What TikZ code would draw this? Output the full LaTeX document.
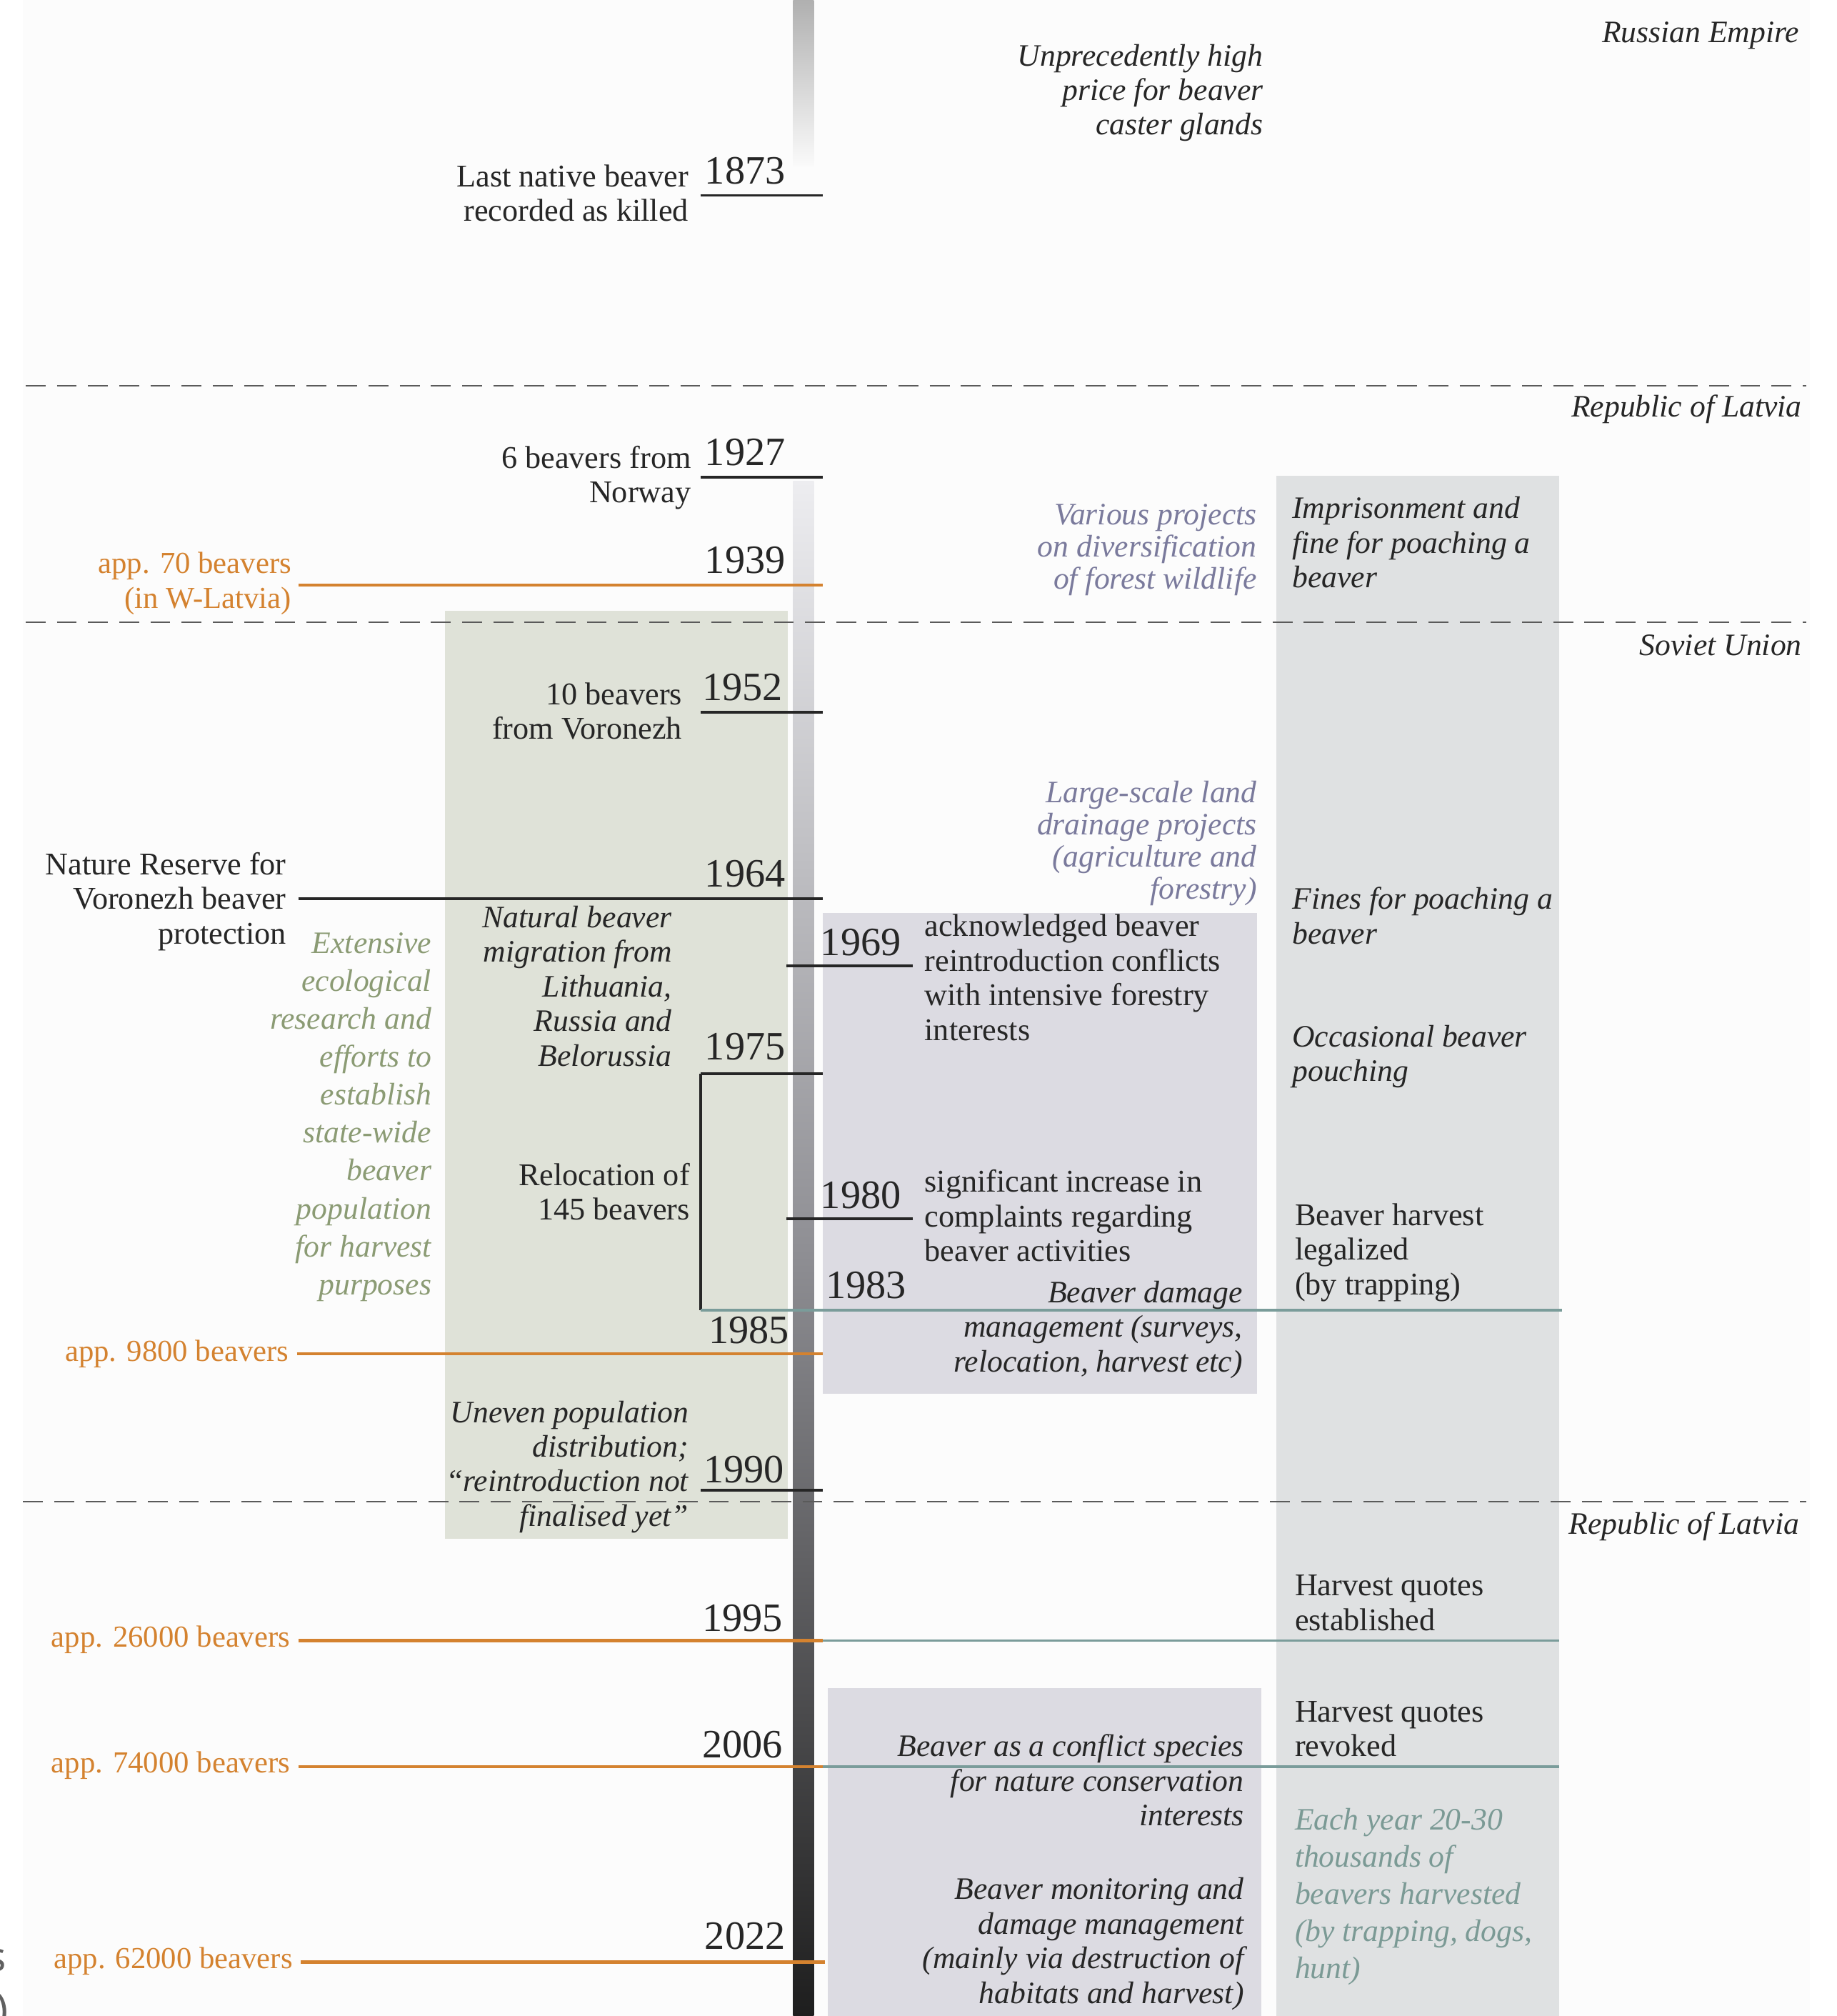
\documentclass[tikz,border=0pt]{standalone}
\usepackage{fontspec}
\setmainfont{Liberation Serif}
\newfontfamily\sidefont{Noto Sans}
\usetikzlibrary{positioning}

\definecolor{paper}{HTML}{FCFCFC}
\definecolor{ink}{HTML}{262626}
\definecolor{popor}{HTML}{D4822F}
\definecolor{greentxt}{HTML}{8B9B74}
\definecolor{purptxt}{HTML}{7A7A9C}
\definecolor{tealtxt}{HTML}{7B9A95}
\definecolor{tealline}{HTML}{7A9C9A}
\definecolor{greenbox}{HTML}{DFE2D8}
\definecolor{purpbox}{HTML}{DCDBE2}
\definecolor{lawbox}{HTML}{DFE1E2}
\definecolor{dashgray}{HTML}{5A5A5A}
\definecolor{barlight}{HTML}{EDEDF0}
\definecolor{barmid}{HTML}{8F8F94}
\definecolor{bardark}{HTML}{1E1E1E}

\begin{document}
\begin{tikzpicture}[x=0.2mm, y=-0.2mm,
    lbl/.style={inner sep=0pt, text=ink, font=\fontsize{14}{15.3}\selectfont},
    ilbl/.style={inner sep=0pt, text=ink, font=\fontsize{13.8}{15.3}\selectfont\itshape},
    tor/.style={anchor=base east, align=right},
    tol/.style={anchor=base west, align=left},
    pop/.style={lbl, tor, text=popor, font=\fontsize{13.5}{15.3}\selectfont},
    plan/.style={ilbl, tor, text=purptxt, font=\fontsize{13.8}{14.2}\selectfont\itshape},
    study/.style={ilbl, tor, text=greentxt, font=\fontsize{13.8}{16.8}\selectfont\itshape},
    hunt/.style={ilbl, tol, text=tealtxt, font=\fontsize{13.8}{16.5}\selectfont\itshape},
    era/.style={ilbl, tor},
    year/.style={inner sep=0pt, anchor=base west, text=ink, font=\fontsize{17.8}{18}\selectfont},
    tick/.style={ink, line width=1.2pt},
    popline/.style={popor, line width=1.3pt},
    harvline/.style={tealline, line width=1.1pt},
    eraline/.style={dashgray, line width=0.8pt, dash pattern=on 8.8pt off 5pt}]

  \useasboundingbox (0,0) rectangle (1429,1568);
  \fill[white] (0,0) rectangle (1429,1568);
  \fill[paper] (18,0) rectangle (1408,1568);

  % shaded blocks
  \fill[greenbox] (346,475) rectangle (613,1197);
  \fill[purpbox] (640,710) rectangle (978,1084);
  \fill[purpbox] (644,1313) rectangle (981,1568);
  \fill[lawbox] (993,370) rectangle (1213,1568);

  % time axis
  \shade[top color=gray!62, bottom color=white!96!gray] (617,0) rectangle (633,129);
  \shade[top color=barlight, bottom color=bardark, middle color=barmid] (617,374) rectangle (633,1568);

  % era borders
  \coordinate (d1l) at (20,300);   \coordinate (d1r) at (1405,300);
  \coordinate (d2l) at (20,484);   \coordinate (d2r) at (1405,484);
  \coordinate (d3l) at (18,1168);  \coordinate (d3r) at (1405,1168);

  % tick ends
  \coordinate (a1873) at (545,152);  \coordinate (b1873) at (640,152);
  \coordinate (a1927) at (545,371);  \coordinate (b1927) at (640,371);
  \coordinate (a1939) at (232,455);  \coordinate (b1939) at (640,455);
  \coordinate (a1952) at (545,554);  \coordinate (b1952) at (640,554);
  \coordinate (a1964) at (232,699);  \coordinate (b1964) at (640,699);
  \coordinate (a1969) at (612,751);  \coordinate (b1969) at (710,751);
  \coordinate (a1975) at (545,835);  \coordinate (b1975) at (640,835);
  \coordinate (a1980) at (612,948);  \coordinate (b1980) at (710,948);
  \coordinate (a1983) at (545,1019); \coordinate (b1983) at (1215,1019);
  \coordinate (a1985) at (231,1053); \coordinate (b1985) at (640,1053);
  \coordinate (a1990) at (545,1159); \coordinate (b1990) at (640,1159);
  \coordinate (a1995) at (232,1276); \coordinate (b1995) at (640,1276); \coordinate (c1995) at (1213,1276);
  \coordinate (a2006) at (232,1374); \coordinate (b2006) at (640,1374); \coordinate (c2006) at (1213,1374);
  \coordinate (a2022) at (234,1526); \coordinate (b2022) at (642,1526);

  \path[eraline] (d1l) edge (d1r) (d2l) edge (d2r) (d3l) edge (d3r);

  \path[tick]
    (a1873) edge (b1873)
    (a1927) edge (b1927)
    (a1952) edge (b1952)
    (a1964) edge (b1964)
    (a1969) edge (b1969)
    (a1975) edge (b1975)
            edge (a1983)
    (a1980) edge (b1980)
    (a1990) edge (b1990);
  \path[popline]
    (a1939) edge (b1939)
    (a1985) edge (b1985)
    (a1995) edge (b1995)
    (a2006) edge (b2006)
    (a2022) edge (b2022);
  \path[harvline]
    (a1983) edge (b1983)
    (b1995) edge (c1995)
    (b2006) edge (c2006);

  % era labels
  \node[era] (russ) at (1400,33) {Russian Empire};
  \node[era] (lat1) at (1402,324) {Republic of Latvia};
  \node[era] (sov)  at (1402,510) {Soviet Union};
  \node[era] (lat2) at (1400,1193) {Republic of Latvia};

  % years
  \node[year] (y1873) at (548,143) {1873};
  \node[year] (y1927) at (548,362) {1927};
  \node[year] (y1939) at (548,446) {1939};
  \node[year] (y1952) at (546,545) {1952};
  \node[year] (y1964) at (548,690) {1964};
  \node[year] (y1969) at (638,743) {1969};
  \node[year] (y1975) at (548,824) {1975};
  \node[year] (y1980) at (638,940) {1980};
  \node[year] (y1983) at (642,1010) {1983};
  \node[year] (y1985) at (551,1045) {1985};
  \node[year] (y1990) at (547,1153) {1990};
  \node[year] (y1995) at (546,1269) {1995};
  \node[year] (y2006) at (546,1367) {2006};
  \node[year] (y2022) at (548,1516) {2022};

  % events (placed at the baseline of the last line)
  \node[lbl, tor] (lastkill) at (536,172) {Last native beaver\\recorded as killed};
  \node[ilbl, tor] (price) at (983,105) {Unprecedently high\\price for beaver\\caster glands};
  \node[lbl, tor] (norway) at (538,391) {6 beavers from\\Norway};
  \node[pop] (pop70) at (227,473) {app. 70 beavers\\(in W-Latvia)};
  \node[plan] (wildlife) at (978,458) {Various projects\\on diversification\\of forest wildlife};
  \node[ilbl, tol] (prison) at (1005,457) {Imprisonment and\\fine for poaching a\\beaver};
  \node[lbl, tor] (voronezh) at (531,575) {10 beavers\\from Voronezh};
  \node[plan] (drainage) at (978,699) {Large-scale land\\drainage projects\\(agriculture and\\forestry)};
  \node[lbl, tor] (reserve) at (223,734) {Nature Reserve for\\Voronezh beaver\\protection};
  \node[ilbl, tol] (fines) at (1005,734) {Fines for poaching a\\beaver};
  \node[study] (research) at (336,1007) {Extensive\\ecological\\research and\\efforts to\\establish\\state-wide\\beaver\\population\\for harvest\\purposes};
  \node[ilbl, tor] (migration) at (523,829) {Natural beaver\\migration from\\Lithuania,\\Russia and\\Belorussia};
  \node[lbl, tol] (conflict) at (719,809) {acknowledged beaver\\reintroduction conflicts\\with intensive forestry\\interests};
  \node[ilbl, tol] (poaching) at (1005,841) {Occasional beaver\\pouching};
  \node[lbl, tor] (relocation) at (537,949) {Relocation of\\145 beavers};
  \node[lbl, tol] (complaints) at (719,981) {significant increase in\\complaints regarding\\beaver activities};
  \node[lbl, tol] (legal) at (1007,1007) {Beaver harvest\\legalized\\(by trapping)};
  \node[ilbl, tor] (damage) at (967,1067) {Beaver damage\\management (surveys,\\relocation, harvest etc)};
  \node[pop] (pop9800) at (225,1059) {app. 9800 beavers};
  \node[ilbl, tor] (uneven) at (536,1187) {Uneven population\\distribution;\\“reintroduction not\\finalised yet”};
  \node[lbl, tol] (quotesin) at (1007,1268) {Harvest quotes\\established};
  \node[pop] (pop26000) at (226,1281) {app. 26000 beavers};
  \node[lbl, tol] (quotesout) at (1007,1366) {Harvest quotes\\revoked};
  \node[pop] (pop74000) at (226,1379) {app. 74000 beavers};
  \node[ilbl, tor] (species) at (968,1420) {Beaver as a conflict species\\for nature conservation\\interests};
  \node[hunt] (harvested) at (1007,1539) {Each year 20-30\\thousands of\\beavers harvested\\(by trapping, dogs,\\hunt)};
  \node[ilbl, tor] (monitoring) at (968,1558) {Beaver monitoring and\\damage management\\(mainly via destruction of\\habitats and harvest)};
  \node[pop] (pop62000) at (228,1531) {app. 62000 beavers};

  % cut-off letters at the left margin
  \node[inner sep=0pt, anchor=base east, text=gray!75!black, font=\sidefont\fontsize{18}{18}\selectfont] (cuts) at (5,1533) {s};
  \node[inner sep=0pt, anchor=base east, text=gray!75!black, font=\sidefont\fontsize{18}{18}\selectfont] (cutp) at (7,1574) {)};
\end{tikzpicture}
\end{document}
